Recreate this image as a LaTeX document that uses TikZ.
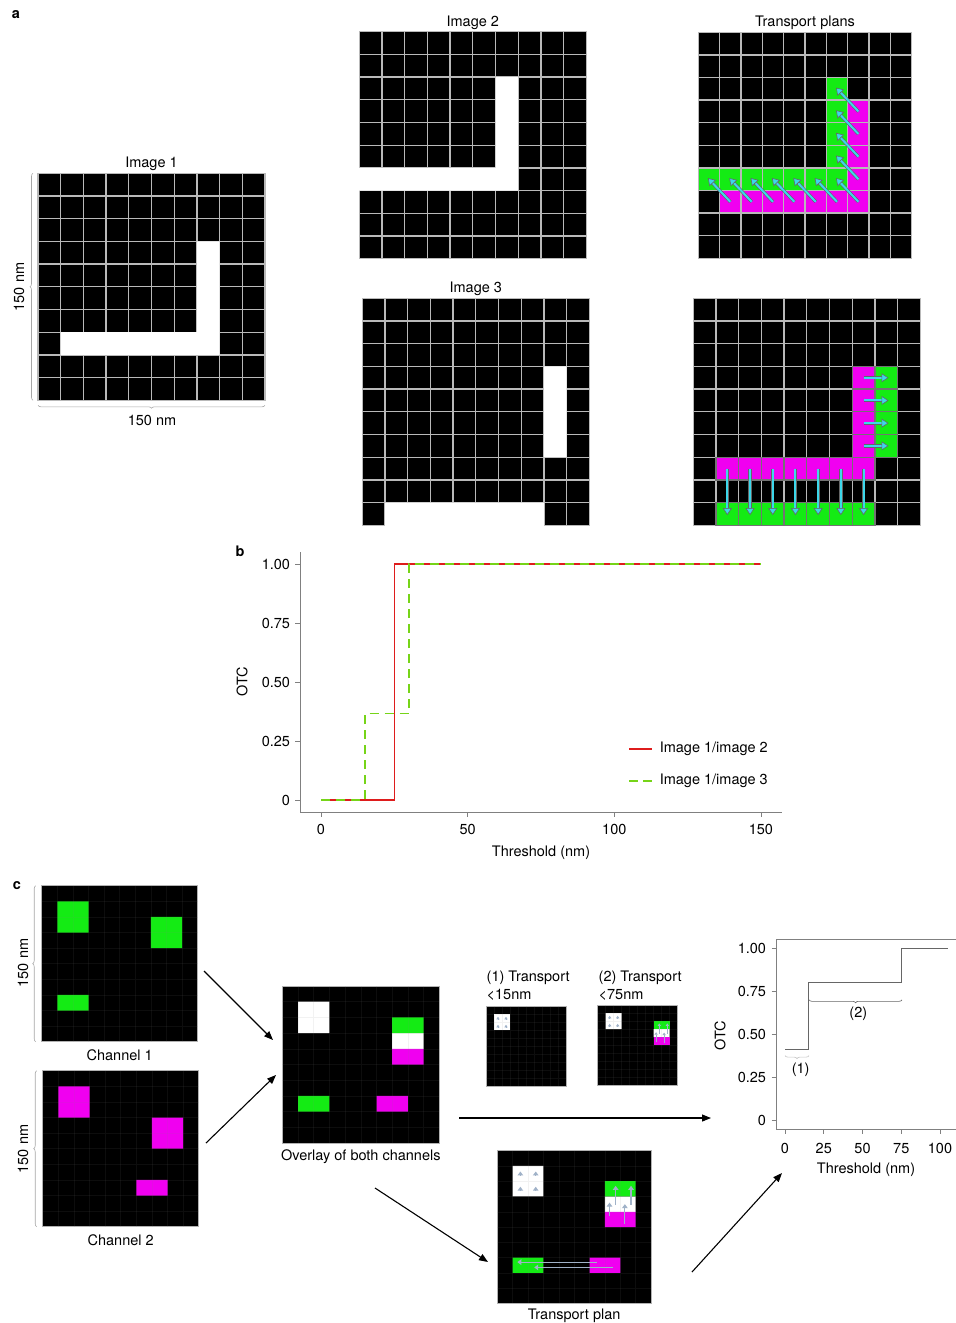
\documentclass[tikz,border=0pt]{standalone}
\usepackage{fontspec}
\setmainfont{TeX Gyre Heros}
\usetikzlibrary{arrows.meta,decorations.pathreplacing}

\definecolor{cellgreen}{RGB}{20,235,20}
\definecolor{cellmagenta}{RGB}{240,0,240}
\definecolor{tpcyan}{RGB}{60,215,235}
\definecolor{tpsteel}{RGB}{160,178,200}
\definecolor{otcred}{RGB}{222,28,28}
\definecolor{otcgreen}{RGB}{118,212,24}

\tikzset{
  cell/.style={fill=black, draw=gray!55, line width=1.3pt},
  chanbox/.style={fill=black, draw=gray!60, line width=0.6pt},
  faintgrid/.style={draw=gray, opacity=0.1, line width=0.5pt},
  dimbrace/.style={decorate, decoration={brace, amplitude=3pt}, draw=gray!70, line width=0.6pt},
  tparrow/.style={draw=tpcyan, line width=2pt,
    -{Triangle[length=7pt,width=9pt,fill=tpcyan,color=black!60,line width=0.6pt]},
    preaction={draw=black!60, line width=3.3pt, arrows=-, shorten >=4.5pt}},
  tpsmall/.style={draw=tpsteel, line width=1.2pt, -{Triangle[length=4pt,width=5.5pt]}},
  tptiny/.style={draw=tpsteel, line width=0.6pt, -{Triangle[length=2.5pt,width=3.2pt]}},
  flowarrow/.style={draw=black, line width=1.1pt, -{Triangle[length=9pt,width=7pt]}},
  axisline/.style={draw=black!50, line width=0.8pt},
  tag/.style={font=\fontsize{14.5}{17}\selectfont\bfseries},
}

\begin{document}
\begin{tikzpicture}[x=1pt, y=-1pt, every node/.style={font=\fontsize{14.5}{17}\selectfont}]
\useasboundingbox (0,0) rectangle (956,1323);

%% ---------- a ----------
\node[tag] (tagA) at (16,15) {a};

% image 1
\begin{scope}[shift={(38pt,-173.3pt)}, x=22.7pt, y=-22.7pt]
  \foreach \c in {0,...,9}
    \foreach \r in {0,...,9}
      \filldraw[cell] (\c,\r) rectangle ++(1,1);
  \fill[white] (7,3) rectangle (8,8) (1,7) rectangle (8,8);
  \coordinate (im1N) at (5,0);
  \coordinate (im1NW) at (0,0);
  \coordinate (im1SW) at (0,10);
  \coordinate (im1SE) at (10,10);
\end{scope}
\node[anchor=south, inner sep=2pt] (im1lbl) at (im1N) {Image 1};
\draw[dimbrace] ([xshift=-5pt]im1SW) -- ([xshift=-5pt]im1NW);
\draw[dimbrace] ([yshift=-5pt]im1SE) -- ([yshift=-5pt]im1SW);
\node[rotate=90] (im1h) at (19,287) {150 nm};
\node (im1w) at (152,420) {150 nm};

% image 2
\begin{scope}[shift={(359.3pt,-31.7pt)}, x=22.7pt, y=-22.7pt]
  \foreach \c in {0,...,9}
    \foreach \r in {0,...,9}
      \filldraw[cell] (\c,\r) rectangle ++(1,1);
  \fill[white] (6,2) rectangle (7,7) (-0.06,6) rectangle (7,7);
  \coordinate (im2N) at (5,0);
\end{scope}
\node[anchor=south, inner sep=2pt] (im2lbl) at (im2N) {Image 2};

% transport plan image 1 -> image 2
\begin{scope}[shift={(698.3pt,-32.3pt)}, x=21.35pt, y=-22.6pt]
  \foreach \c in {0,...,9}
    \foreach \r in {0,...,9}
      \filldraw[cell] (\c,\r) rectangle ++(1,1);
  \foreach \c/\r in {0/6,1/6,2/6,3/6,4/6,5/6,6/6,6/2,6/3,6/4,6/5}
    \filldraw[cell, fill=cellgreen] (\c,\r) rectangle ++(1,1);
  \foreach \c/\r in {1/7,2/7,3/7,4/7,5/7,6/7,7/7,7/3,7/4,7/5,7/6}
    \filldraw[cell, fill=cellmagenta] (\c,\r) rectangle ++(1,1);
  \foreach \c in {1,...,7}
    \draw[tparrow] (\c+0.5,7.5) -- (\c-0.55,6.45);
  \foreach \r in {3,...,6}
    \draw[tparrow] (7.5,\r+0.5) -- (6.45,\r-0.55);
  \coordinate (tp2N) at (5,0);
\end{scope}
\node[anchor=south, inner sep=2pt] (tp2lbl) at (tp2N) {Transport plans};

% image 3
\begin{scope}[shift={(362.3pt,-298.3pt)}, x=22.7pt, y=-22.7pt]
  \foreach \c in {0,...,9}
    \foreach \r in {0,...,9}
      \filldraw[cell] (\c,\r) rectangle ++(1,1);
  \fill[white] (8,3) rectangle (9,7) (1,9) rectangle (8,10.06);
  \coordinate (im3N) at (5,0);
\end{scope}
\node[anchor=south, inner sep=2pt] (im3lbl) at (im3N) {Image 3};

% transport plan image 1 -> image 3
\begin{scope}[shift={(693.3pt,-298.3pt)}, x=22.7pt, y=-22.7pt]
  \foreach \c in {0,...,9}
    \foreach \r in {0,...,9}
      \filldraw[cell] (\c,\r) rectangle ++(1,1);
  \foreach \c/\r in {1/9,2/9,3/9,4/9,5/9,6/9,7/9,8/3,8/4,8/5,8/6}
    \filldraw[cell, fill=cellgreen, draw=black!55] (\c,\r) rectangle ++(1,1);
  \foreach \c/\r in {1/7,2/7,3/7,4/7,5/7,6/7,7/7,7/3,7/4,7/5,7/6}
    \filldraw[cell, fill=cellmagenta, draw=black!55] (\c,\r) rectangle ++(1,1);
  \foreach \r in {3,...,6}
    \draw[tparrow] (7.5,\r+0.5) -- (8.6,\r+0.5);
  \foreach \c in {1,...,7}
    \draw[tparrow] (\c+0.5,7.5) -- (\c+0.5,9.55);
\end{scope}

%% ---------- b ----------
\node[tag] (tagB) at (240,551) {b};
\draw[axisline] (300,552) -- (300,812) -- (782,812);
\foreach \v/\t [count=\i] in {0/0,0.25/0.25,0.5/0.50,0.75/0.75,1/1.00} {
  \draw[axisline] (295,{800-236*\v}) -- (300,{800-236*\v});
  \node[anchor=east] (by\i) at (293.5,{800-236*\v}) {\t};
}
\foreach \v [count=\i] in {0,50,100,150} {
  \draw[axisline] ({321+2.933*\v},812) -- ({321+2.933*\v},817);
  \node[anchor=north] (bx\i) at ({321+2.933*\v},821) {\v};
}
\node (bxlbl) at (541,853) {Threshold (nm)};
\node[rotate=90] (bylbl) at (242,682) {OTC};
\begin{scope}[shift={(321pt,-800pt)}, x=2.933pt, y=236pt]
  \draw[otcred, line width=1.6pt] (0,0) -- (25,0) -- (25,1) -- (150,1);
  \draw[otcgreen, line width=1.6pt, dash pattern=on 9pt off 6pt]
    (0,0) -- (15,0) -- (15,0.366) -- (30,0.366) -- (30,1) -- (150,1);
\end{scope}
\coordinate (leg1) at (629,749);
\coordinate (leg2) at (629,781);
\draw[otcred, line width=1.6pt] (leg1) -- ++(23,0) node[anchor=west, text=black, inner sep=0pt, xshift=7pt] (leg1lbl) {Image 1/image 2};
\draw[otcgreen, line width=1.6pt, dash pattern=on 9pt off 5pt] (leg2) -- ++(23,0) node[anchor=west, text=black, inner sep=0pt, xshift=7pt] (leg2lbl) {Image 1/image 3};

%% ---------- c ----------
\node[tag] (tagC) at (17,886) {c};

% channel 1
\begin{scope}[shift={(41.7pt,-885.7pt)}, x=15.6pt, y=-15.6pt]
  \filldraw[chanbox] (0,0) rectangle (10,10);
  \fill[cellgreen] (1,1) rectangle (3,3) (7,2) rectangle (9,4) (1,7) rectangle (3,8);
  \foreach \k in {1,...,9}
    \draw[faintgrid] (\k,0) -- (\k,10) (0,\k) -- (10,\k);
  \coordinate (ch1NW) at (0,0);
  \coordinate (ch1SW) at (0,10);
  \coordinate (ch1S) at (5,10);
\end{scope}
\node[anchor=north, inner sep=7.5pt] (ch1lbl) at (ch1S) {Channel 1};
\draw[dimbrace] ([xshift=-6pt]ch1SW) -- ([xshift=-6pt]ch1NW);
\node[rotate=90] (ch1h) at (23,963) {150 nm};

% channel 2
\begin{scope}[shift={(42.7pt,-1070.7pt)}, x=15.6pt, y=-15.6pt]
  \filldraw[chanbox] (0,0) rectangle (10,10);
  \fill[cellmagenta] (1,1) rectangle (3,3) (7,3) rectangle (9,5) (6,7) rectangle (8,8);
  \foreach \k in {1,...,9}
    \draw[faintgrid] (\k,0) -- (\k,10) (0,\k) -- (10,\k);
  \coordinate (ch2NW) at (0,0);
  \coordinate (ch2SW) at (0,10);
  \coordinate (ch2S) at (5,10);
\end{scope}
\node[anchor=north, inner sep=7.5pt] (ch2lbl) at (ch2S) {Channel 2};
\draw[dimbrace] ([xshift=-6pt]ch2SW) -- ([xshift=-6pt]ch2NW);
\node[rotate=90] (ch2h) at (23,1149) {150 nm};

% overlay
\begin{scope}[shift={(282.3pt,-986pt)}, x=15.7pt, y=-15.7pt]
  \filldraw[chanbox] (0,0) rectangle (10,10);
  \fill[white] (1,1) rectangle (3,3) (7,3) rectangle (9,4);
  \fill[cellgreen] (7,2) rectangle (9,3) (1,7) rectangle (3,8);
  \fill[cellmagenta] (7,4) rectangle (9,5) (6,7) rectangle (8,8);
  \foreach \k in {1,...,9}
    \draw[faintgrid] (\k,0) -- (\k,10) (0,\k) -- (10,\k);
  \coordinate (ovS) at (5,10);
\end{scope}
\node[anchor=north, inner sep=6.5pt] (ovlbl) at (ovS) {Overlay of both channels};

% (1) transport < 15 nm
\begin{scope}[shift={(486pt,-1006pt)}, x=8pt, y=-8pt]
  \filldraw[chanbox] (0,0) rectangle (10,10);
  \fill[white] (1,1) rectangle (3,3);
  \foreach \k in {1,...,9}
    \draw[faintgrid] (\k,0) -- (\k,10) (0,\k) -- (10,\k);
  \foreach \c/\r in {1/1,2/1,1/2,2/2}
    \draw[tptiny] (\c+0.5,\r+0.65) -- (\c+0.5,\r+0.35);
\end{scope}
\node[anchor=west, inner sep=0pt] (t1lbl) at (486.5,978) {(1) Transport};
\node[anchor=west, inner sep=0pt] (t1val) at (486.5,995) {<15nm};

% (2) transport < 75 nm
\begin{scope}[shift={(597.7pt,-1005pt)}, x=8pt, y=-8pt]
  \filldraw[chanbox] (0,0) rectangle (10,10);
  \fill[white] (1,1) rectangle (3,3) (7,3) rectangle (9,4);
  \fill[cellgreen] (7,2) rectangle (9,3);
  \fill[cellmagenta] (7,4) rectangle (9,5);
  \foreach \k in {1,...,9}
    \draw[faintgrid] (\k,0) -- (\k,10) (0,\k) -- (10,\k);
  \foreach \c/\r in {1/1,2/1,1/2,2/2}
    \draw[tptiny] (\c+0.5,\r+0.65) -- (\c+0.5,\r+0.35);
  \draw[tptiny] (7.3,4.6) -- (7.3,3.4);
  \draw[tptiny] (7.7,3.6) -- (7.7,2.3);
  \draw[tptiny] (8.3,4.8) -- (8.3,3.45);
  \draw[tptiny] (8.7,3.6) -- (8.7,2.3);
\end{scope}
\node[anchor=west, inner sep=0pt] (t2lbl) at (598.5,978) {(2) Transport};
\node[anchor=west, inner sep=0pt] (t2val) at (598.5,995) {<75nm};

% transport plan
\begin{scope}[shift={(497.3pt,-1150.7pt)}, x=15.37pt, y=-15.26pt]
  \filldraw[chanbox] (0,0) rectangle (10,10);
  \fill[white] (1,1) rectangle (3,3) (7,3) rectangle (9,4);
  \fill[cellgreen] (7,2) rectangle (9,3) (1,7) rectangle (3,8);
  \fill[cellmagenta] (7,4) rectangle (9,5) (6,7) rectangle (8,8);
  \foreach \k in {1,...,9}
    \draw[faintgrid] (\k,0) -- (\k,10) (0,\k) -- (10,\k);
  \foreach \c/\r in {1/1,2/1,1/2,2/2}
    \draw[tpsmall] (\c+0.5,\r+0.64) -- (\c+0.5,\r+0.36);
  \draw[tpsmall] (7.3,4.3) -- (7.3,3.4);
  \draw[tpsmall] (7.7,3.55) -- (7.7,2.3);
  \draw[tpsmall] (8.3,4.8) -- (8.3,3.5);
  \draw[tpsmall] (8.7,3.55) -- (8.7,2.3);
  \draw[tpsmall] (6.5,7.3) -- (1.3,7.3);
  \draw[tpsmall] (7.5,7.65) -- (2.4,7.65);
  \coordinate (tpS) at (5,10);
\end{scope}
\node[anchor=north, inner sep=5.5pt] (tplbl) at (tpS) {Transport plan};

% OTC inset
\draw[axisline] (956,939) -- (776.7,939) -- (776.7,1129) -- (956,1129);
\foreach \v/\t [count=\i] in {0/0,0.25/0.25,0.5/0.50,0.75/0.75,1/1.00} {
  \draw[axisline] (771.5,{1120-171.7*\v}) -- (776.7,{1120-171.7*\v});
  \node[anchor=east] (cy\i) at (769.5,{1120-171.7*\v}) {\t};
}
\foreach \v [count=\i] in {0,25,50,75,100} {
  \draw[axisline] ({785+1.55*\v},1129) -- ({785+1.55*\v},1134);
  \node[anchor=north] (cx\i) at ({785+1.55*\v},1140) {\v};
}
\node (cxlbl) at (866,1170) {Threshold (nm)};
\node[rotate=90] (cylbl) at (720,1036) {OTC};
\begin{scope}[shift={(785pt,-1120pt)}, x=1.55pt, y=171.7pt]
  \draw[black!60, line width=1.1pt] (0,0.41) -- (15,0.41) -- (15,0.80) -- (75,0.80) -- (75,1) -- (105,1);
  \draw[dimbrace, draw=gray!45] (15.5,0.375) -- (0,0.375);
  \draw[dimbrace, draw=black!60] (75.5,0.70) -- (15.5,0.70);
\end{scope}
\node (brc1) at (800.7,1070) {(1)};
\node (brc2) at (858.3,1014) {(2)};

% flow arrows
\coordinate (ch1out) at (204,971);
\coordinate (ovin1) at (273,1040);
\coordinate (ch2out) at (206,1143);
\coordinate (ovin2) at (276,1075);
\coordinate (ovright) at (459,1118);
\coordinate (otcin) at (711,1118);
\coordinate (ovdown) at (375,1188);
\coordinate (tpin) at (488,1262);
\coordinate (tpout) at (692,1272);
\coordinate (otcin2) at (782,1173);
\draw[flowarrow] (ch1out) -- (ovin1);
\draw[flowarrow] (ch2out) -- (ovin2);
\draw[flowarrow] (ovright) -- (otcin);
\draw[flowarrow] (ovdown) -- (tpin);
\draw[flowarrow] (tpout) -- (otcin2);
\end{tikzpicture}
\end{document}
